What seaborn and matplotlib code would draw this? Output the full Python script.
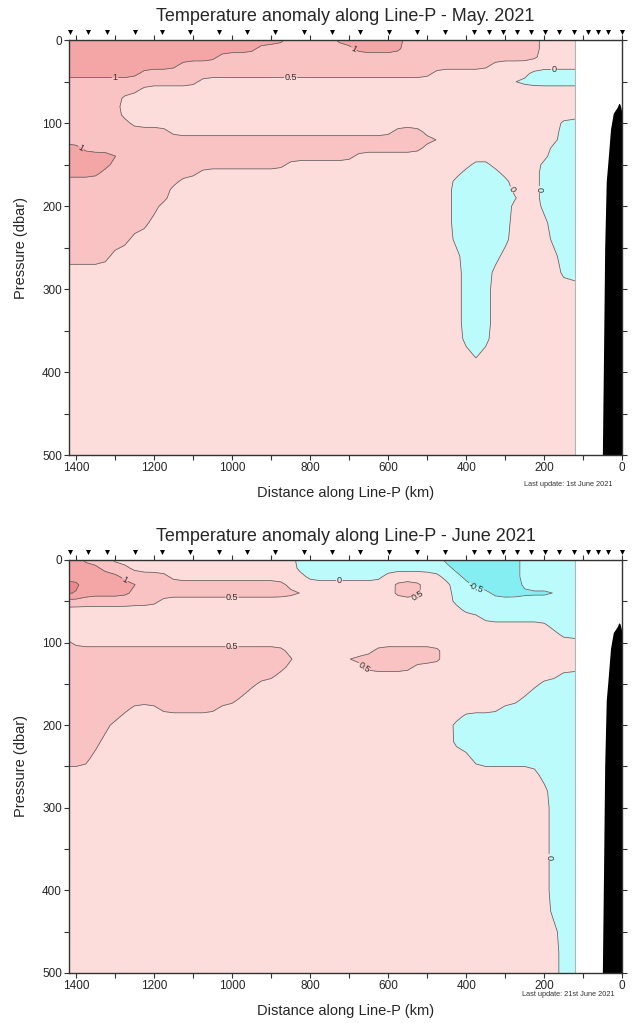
import numpy as np
import matplotlib
matplotlib.use("Agg")
import matplotlib.pyplot as plt
import seaborn as sns

# grid columns: distance along Line-P (km), left to right as drawn
dist_km = [1425, 1400, 1375, 1350, 1325, 1300, 1275, 1250, 1225, 1200,
           1175, 1150, 1125, 1100, 1075, 1050, 1025, 1000, 975, 950,
           925, 900, 875, 850, 825, 800, 775, 750, 725, 700,
           675, 650, 625, 600, 575, 550, 525, 500, 475, 450,
           425, 400, 375, 350, 325, 300, 275, 250, 225, 200,
           175, 150, 121]
# grid rows: pressure (dbar)
pressure_dbar = [0, 10, 20, 30, 40, 50, 60, 70, 80, 90, 100, 110, 120, 130, 140,
                 150, 160, 170, 180, 190, 200, 220, 240, 260, 280, 300, 320, 340,
                 360, 380, 400, 425, 450, 475, 500]

# anomaly class of each cell read off the sections (blocks of 10 columns)
# 0: < -0.5  1: -0.5..0  2: 0..0.5  3: 0.5..1  4: 1..1.5  5: > 1.5
band_anomaly = {"0": -0.75, "1": -0.25, "2": 0.25, "3": 0.75, "4": 1.25, "5": 1.75}

may_map = [
    "4444444444 4444444444 4443333344 4444433333 3333333332 222",  # 0
    "4444444444 4444444444 3333333333 4444433333 3333333332 222",  # 10
    "4444444444 4444443333 3333333333 3333333333 3333333332 222",  # 20
    "4444444444 4433333333 3333333333 3333333333 3333222222 222",  # 30
    "4444444433 3333333333 3333333333 3333333322 2222222211 111",  # 40
    "3333333333 3333222222 2222222222 2222222222 2222221111 111",  # 50
    "3333333322 2222222222 2222222222 2222222222 2222222222 222",  # 60
    "3333332222 2222222222 2222222222 2222222222 2222222222 222",  # 70
    "3333332222 2222222222 2222222222 2222222222 2222222222 222",  # 80
    "3333332222 2222222222 2222222222 2222222222 2222222222 222",  # 90
    "3333333222 2222222222 2222222222 2222222222 2222222222 211",  # 100
    "3333333333 3222222222 2222222222 2222333222 2222222222 211",  # 110
    "3333333333 3333333333 3333333333 3333333332 2222222222 211",  # 120
    "4433333333 3333333333 3333333333 3333333222 2222222222 111",  # 130
    "4444443333 3333333333 3333333333 2222222222 2222222222 111",  # 140
    "4444433333 3333333333 3332222222 2222222222 2211222221 111",  # 150
    "4444333333 3333222222 2222222222 2222222222 2111122221 111",  # 160
    "3333333333 3322222222 2222222222 2222222222 1111112221 111",  # 170
    "3333333333 3222222222 2222222222 2222222222 1111112221 111",  # 180
    "3333333333 3222222222 2222222222 2222222222 1111111221 111",  # 190
    "3333333333 2222222222 2222222222 2222222222 1111112221 111",  # 200
    "3333333332 2222222222 2222222222 2222222222 1111112222 111",  # 220
    "3333333222 2222222222 2222222222 2222222222 1111112222 111",  # 240
    "3333322222 2222222222 2222222222 2222222222 2111122222 211",  # 260
    "2222222222 2222222222 2222222222 2222222222 2111222222 211",  # 280
    "2222222222 2222222222 2222222222 2222222222 2111222222 222",  # 300
    "2222222222 2222222222 2222222222 2222222222 2111222222 222",  # 320
    "2222222222 2222222222 2222222222 2222222222 2111222222 222",  # 340
    "2222222222 2222222222 2222222222 2222222222 2111222222 222",  # 360
    "2222222222 2222222222 2222222222 2222222222 2212222222 222",  # 380
    "2222222222 2222222222 2222222222 2222222222 2222222222 222",  # 400
    "2222222222 2222222222 2222222222 2222222222 2222222222 222",  # 425
    "2222222222 2222222222 2222222222 2222222222 2222222222 222",  # 450
    "2222222222 2222222222 2222222222 2222222222 2222222222 222",  # 475
    "2222222222 2222222222 2222222222 2222222222 2222222222 222",  # 500
]

june_map = [
    "4433322222 2222222222 2222111111 1111111110 0000000111 111",  # 0
    "4444333222 2222222222 2222111111 1111111111 0000000111 111",  # 10
    "4444443333 3222222222 2222211111 1112222221 1000000111 111",  # 20
    "5544444433 3333333333 3332222222 2222333222 1100000111 111",  # 30
    "5544444333 3333333333 3333322222 2222333222 1111000000 011",  # 40
    "3333333333 2222222222 2222222222 2222222222 1111111111 111",  # 50
    "2222222222 2222222222 2222222222 2222222222 2111111111 111",  # 60
    "2222222222 2222222222 2222222222 2222222222 2221111111 111",  # 70
    "2222222222 2222222222 2222222222 2222222222 2222222222 111",  # 80
    "2222222222 2222222222 2222222222 2222222222 2222222222 211",  # 90
    "3222222222 2222222222 2222222222 2222222222 2222222222 222",  # 100
    "3333333333 3333333333 3332222222 2233333332 2222222222 222",  # 110
    "3333333333 3333333333 3333222223 3333333332 2222222222 222",  # 120
    "3333333333 3333333333 3332222222 2333332222 2222222222 222",  # 130
    "3333333333 3333333333 3322222222 2222222222 2222222222 211",  # 140
    "3333333333 3333333333 2222222222 2222222222 2222222221 111",  # 150
    "3333333333 3333333332 2222222222 2222222222 2222222211 111",  # 160
    "3333333333 3333333322 2222222222 2222222222 2222222111 111",  # 170
    "3333333222 3333332222 2222222222 2222222222 2222211111 111",  # 180
    "3333332222 2222222222 2222222222 2222222222 2111111111 111",  # 190
    "3333322222 2222222222 2222222222 2222222222 1111111111 111",  # 200
    "3333222222 2222222222 2222222222 2222222222 1111111111 111",  # 220
    "3332222222 2222222222 2222222222 2222222222 2211111111 111",  # 240
    "2222222222 2222222222 2222222222 2222222222 2222222221 111",  # 260
    "2222222222 2222222222 2222222222 2222222222 2222222222 111",  # 280
    "2222222222 2222222222 2222222222 2222222222 2222222222 111",  # 300
    "2222222222 2222222222 2222222222 2222222222 2222222222 111",  # 320
    "2222222222 2222222222 2222222222 2222222222 2222222222 111",  # 340
    "2222222222 2222222222 2222222222 2222222222 2222222222 111",  # 360
    "2222222222 2222222222 2222222222 2222222222 2222222222 111",  # 380
    "2222222222 2222222222 2222222222 2222222222 2222222222 111",  # 400
    "2222222222 2222222222 2222222222 2222222222 2222222222 111",  # 425
    "2222222222 2222222222 2222222222 2222222222 2222222222 211",  # 450
    "2222222222 2222222222 2222222222 2222222222 2222222222 211",  # 475
    "2222222222 2222222222 2222222222 2222222222 2222222222 211",  # 500
]

# CTD stations (triangles on top)
station_km = [1416, 1369, 1320, 1250, 1179, 1107, 1034, 962, 889, 816, 744, 671,
              599, 526, 453, 381, 342, 306, 270, 233, 197, 161, 124, 88, 62, 36, 0]

# shelf / slope bottom
bathy_km = [0, 3, 6, 9, 12, 16, 23, 30, 37, 41, 45, 48, 51]
bathy_dbar = [90, 82, 77, 76, 80, 83, 88, 107, 148, 170, 250, 380, 500]

titles = ["Temperature anomaly along Line-P - May. 2021",
          "Temperature anomaly along Line-P - June 2021"]
updates = ["Last update: 1st June 2021", "Last update: 21st June 2021"]

fill_levels = [-1.0, -0.5, 0.0, 0.5, 1.0, 1.5, 2.0]
fill_colors = ["#84eef2", "#bbfbfb", "#fddcdc", "#f9c3c3", "#f4a5a5", "#ee8a8c"]
line_levels = [-0.5, 0.0, 0.5, 1.0, 1.5]


def to_grid(rows):
    rows = [r.replace(" ", "") for r in rows]
    assert all(len(r) == len(dist_km) for r in rows), [len(r) for r in rows]
    return np.array([[band_anomaly[c] for c in r] for r in rows])


def soften(z):
    # light 1-3-1 blur so the hand-read cells give rounded isolines
    k = np.array([1.0, 3.0, 1.0]) / 5.0
    zp = np.pad(z, 1, mode="edge")
    z = k[0] * zp[:-2, 1:-1] + k[1] * zp[1:-1, 1:-1] + k[2] * zp[2:, 1:-1]
    zp = np.pad(z, 1, mode="edge")
    z = k[0] * zp[1:-1, :-2] + k[1] * zp[1:-1, 1:-1] + k[2] * zp[1:-1, 2:]
    return z


sns.set_theme(style="ticks")
plt.rcParams["font.family"] = ["Liberation Sans", "DejaVu Sans"]

fig = plt.figure(figsize=(6.33, 10.23), dpi=100)
ax_top = fig.add_axes([0.109, 0.555, 0.874, 0.4057])
ax_bot = fig.add_axes([0.109, 0.0489, 0.874, 0.4037])


def draw_section(ax, rows, title):
    z = soften(to_grid(rows))
    ax.set_facecolor("white")
    ax.contourf(dist_km, pressure_dbar, z, levels=fill_levels, colors=fill_colors)
    cs = ax.contour(dist_km, pressure_dbar, z, levels=line_levels,
                    colors="#5f5f5f", linewidths=0.55, linestyles="solid")
    ax.clabel(cs, levels=[-0.5, 0.0, 0.5, 1.0], fmt="%g", fontsize=6.5,
              colors="#303030", inline_spacing=1)
    ax.axvline(121, color="#b4b4b4", lw=0.8)
    ax.fill_between(bathy_km, bathy_dbar, 500, color="black", lw=0)
    sns.scatterplot(x=station_km, y=[1.019] * len(station_km), marker="v", s=13,
                    color="black", linewidth=0, transform=ax.get_xaxis_transform(),
                    clip_on=False, legend=False, ax=ax)

    ax.set_xlim(1418, 0)
    ax.set_ylim(500, 0)
    ax.set_xticks([1400, 1200, 1000, 800, 600, 400, 200, 0])
    ax.set_xticks(np.arange(1400, -1, -100), minor=True)
    ax.set_yticks([0, 100, 200, 300, 400, 500])
    ax.set_yticks(np.arange(0, 501, 50), minor=True)
    ax.tick_params(which="both", direction="out", top=True, right=True,
                   length=3.5, width=0.8, color="#333333", labelsize=8.5, pad=1.5)
    ax.tick_params(labeltop=False, labelright=False)
    for sp in ax.spines.values():
        sp.set_color("#333333")
        sp.set_linewidth(1.0)
        sp.set_zorder(5)

    ax.set_title(title, fontsize=13, pad=14)
    ax.set_xlabel("Distance along Line-P (km)", fontsize=10.5)
    ax.set_ylabel("Pressure (dbar)", fontsize=10.5)
    ax.xaxis.set_label_coords(0.5, -0.075)
    ax.yaxis.set_label_coords(-0.074, 0.5)


draw_section(ax_top, may_map, titles[0])
draw_section(ax_bot, june_map, titles[1])

fig.text(0.898, 0.526, updates[0], fontsize=5.3, ha="center", va="center", color="#333333")
fig.text(0.898, 0.0275, updates[1], fontsize=5.3, ha="center", va="center", color="#333333")

fig.savefig("out.png", dpi=100, facecolor="white")
